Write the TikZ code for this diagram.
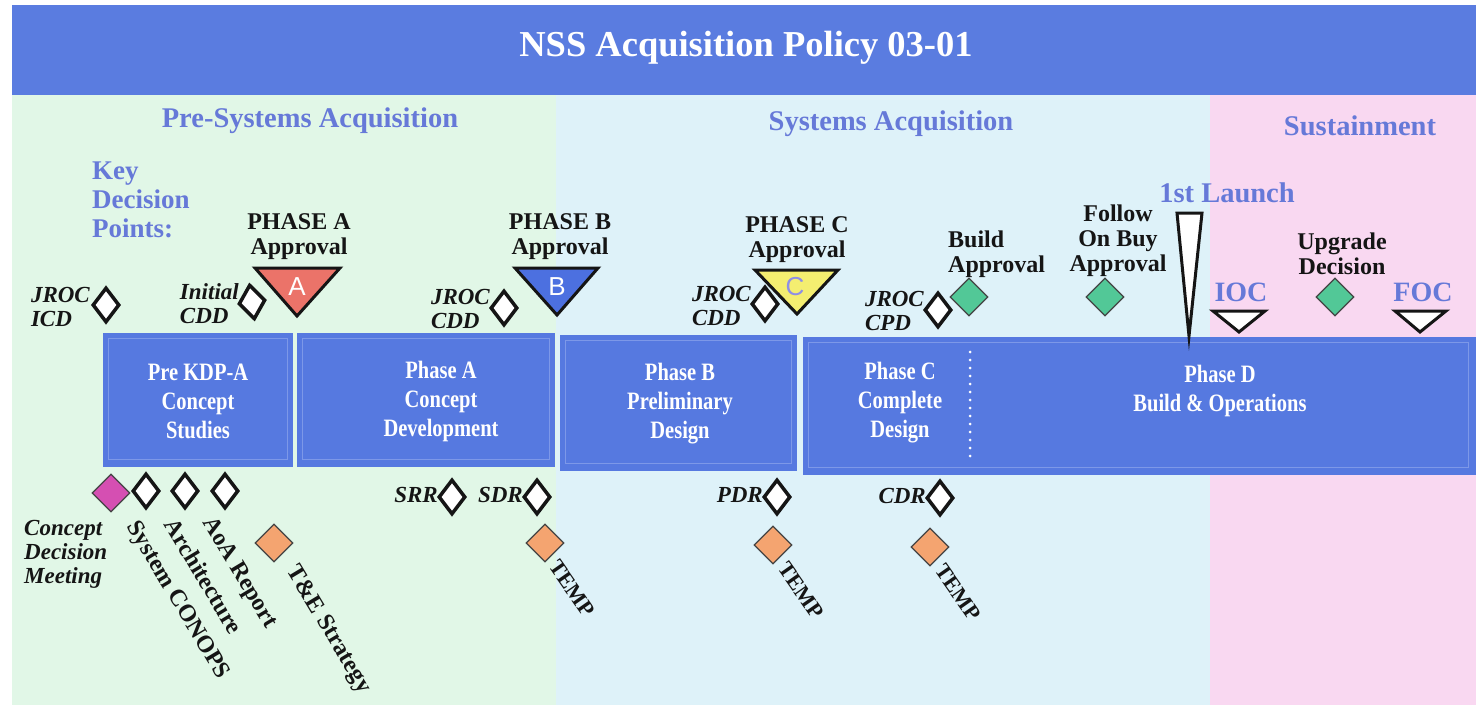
\documentclass[tikz,border=0pt]{standalone}
\usepackage{fontspec}
\setmainfont{Liberation Serif}
\newfontfamily\condfont{Liberation Serif}[FakeStretch=0.82]
\newfontfamily\lettfont{Liberation Sans}
\usetikzlibrary{shapes.geometric}
\definecolor{barblue}{HTML}{5A7CE0}
\definecolor{boxblue}{HTML}{5679E0}
\definecolor{boxline}{HTML}{7D98E8}
\definecolor{greenbg}{HTML}{E1F7E7}
\definecolor{bluebg}{HTML}{DEF2F9}
\definecolor{pinkbg}{HTML}{F9D8F1}
\definecolor{hdrblue}{HTML}{6679D8}
\definecolor{kgreen}{HTML}{52C897}
\definecolor{korange}{HTML}{F4A470}
\definecolor{kpink}{HTML}{D54FB2}
\definecolor{kred}{HTML}{EB7369}
\definecolor{kblue}{HTML}{4C70E0}
\definecolor{kyellow}{HTML}{F4EE70}
\definecolor{cletter}{HTML}{8E8EE6}
\definecolor{ink}{HTML}{151515}
\begin{document}
\begin{tikzpicture}[x=1pt,y=-1pt,
  hdr/.style={text=hdrblue, font=\fontsize{28.5}{30}\selectfont\bfseries, inner sep=0},
  lbl/.style={text=ink, font=\fontsize{24}{25}\selectfont\bfseries, align=center, inner sep=0},
  ilbl/.style={text=ink, font=\fontsize{23}{24}\selectfont\bfseries\itshape, align=left, inner sep=0},
  rlbl/.style={text=ink, font=\fontsize{24}{24}\selectfont\bfseries, inner sep=0, rotate=-59, anchor=north west},
  wd/.style={diamond, draw=ink, line width=3.5pt, fill=white, minimum width=27pt, minimum height=35pt, inner sep=0},
  cd/.style={diamond, draw=ink!80, line width=1.3pt, minimum width=38pt, minimum height=38pt, inner sep=0},
  gd/.style={cd, fill=kgreen},
  od/.style={cd, fill=korange},
  pd/.style={cd, fill=kpink},
  phasebox/.style={fill=boxblue, draw=none, anchor=north west, inner sep=0},
  boxtxt/.style={text=white, font=\condfont\fontsize{25}{29}\selectfont\bfseries, align=center, inner sep=0},
  tri/.style={draw=ink, line width=3pt, line join=miter},
  letter/.style={font=\lettfont\fontsize{26}{26}\selectfont, inner sep=0}
]
\useasboundingbox (0,0) rectangle (1476,709);
\fill[white] (0,0) rectangle (1476,709);
% background regions
\fill[greenbg] (12,95) rectangle (556,705);
\fill[bluebg] (556,95) rectangle (1210,705);
\fill[pinkbg] (1210,95) rectangle (1476,705);
% title bar
\fill[barblue] (12,5) rectangle (1476,95);
\node[text=white, font=\fontsize{36.5}{38}\selectfont\bfseries, inner sep=0] (title) at (746,48) {NSS Acquisition Policy 03-01};
% section headers
\node[hdr] (hpre) at (310,121) {Pre-Systems Acquisition};
\node[hdr] (hsys) at (891,124) {Systems Acquisition};
\node[hdr] (hsus) at (1360,126) {Sustainment};
\node[text=hdrblue, font=\fontsize{27}{29}\selectfont\bfseries, align=left, inner sep=0, anchor=north west] (kdp) at (92,162) {Key\\Decision\\Points:};

% phase boxes
\node[phasebox, minimum width=190pt, minimum height=134pt] (p0) at (103,333) {};
\node[phasebox, minimum width=258pt, minimum height=134pt] (p1) at (297,333) {};
\node[phasebox, minimum width=237pt, minimum height=136pt] (p2) at (560,335) {};
\node[phasebox, minimum width=673pt, minimum height=138pt] (p3) at (803,337) {};
\draw[boxline, line width=0.8pt] (108,338) rectangle (287,459);
\draw[boxline, line width=0.8pt] (302,338) rectangle (549,459);
\draw[boxline, line width=0.8pt] (565,340) rectangle (791,463);
\draw[boxline, line width=0.8pt] (808,342) rectangle (1468,467);
\draw[white, line width=3pt, line cap=round, dash pattern=on 0pt off 8pt] (970,352) -- (970,460);
\node[boxtxt] (t0) at (198,401) {Pre KDP-A\\Concept\\Studies};
\node[boxtxt] (t1) at (441,401) {Phase A\\Concept\\Development};
\node[boxtxt] (t2) at (680,404) {Phase B\\Preliminary\\Design};
\node[boxtxt] (t3) at (900,403) {Phase C\\Complete\\Design};
\node[boxtxt] (t4) at (1220,391) {Phase D\\Build \& Operations};

% top key decision points
\node[wd] (jicd) at (106,305) {};
\node[ilbl, anchor=north east] (ljicd) at (90,287) {JROC\\ICD};
\node[wd, rotate=8] (icdd) at (252,302) {};
\node[ilbl, anchor=north east] (licdd) at (239,283) {Initial\\CDD};
\node[wd] (jcdd1) at (504,308) {};
\node[ilbl, anchor=north east] (ljcdd1) at (490,289) {JROC\\CDD};
\node[wd] (jcdd2) at (765,304) {};
\node[ilbl, anchor=north east] (ljcdd2) at (751,286) {JROC\\CDD};
\node[wd] (jcpd) at (938,310) {};
\node[ilbl, anchor=north east] (ljcpd) at (924,291) {JROC\\CPD};

% phase approval triangles
\coordinate (ta1) at (255,268); \coordinate (ta2) at (340,268); \coordinate (ta3) at (297,316);
\draw[tri, fill=kred] (ta1) -- (ta2) -- (ta3) -- cycle;
\node[letter, text=white] (la) at (297,287) {A};
\node[lbl] (pa) at (299,237) {PHASE A\\Approval};
\coordinate (tb1) at (515,268); \coordinate (tb2) at (598,268); \coordinate (tb3) at (557,315);
\draw[tri, fill=kblue] (tb1) -- (tb2) -- (tb3) -- cycle;
\node[letter, text=white] (lb) at (557,287) {B};
\node[lbl] (pb) at (560,237) {PHASE B\\Approval};
\coordinate (tc1) at (755,270); \coordinate (tc2) at (838,270); \coordinate (tc3) at (797,314);
\draw[tri, fill=kyellow] (tc1) -- (tc2) -- (tc3) -- cycle;
\node[letter, text=cletter] (lc) at (795,287) {C};
\node[lbl] (pc) at (797,240) {PHASE C\\Approval};

% build / follow on / upgrade
\node[gd] (gbuild) at (969,297) {};
\node[lbl, align=left, anchor=north west] (lbuild) at (948,231) {Build\\Approval};
\node[gd] (gfollow) at (1105,297) {};
\node[lbl] (lfollow) at (1118,241) {Follow\\On Buy\\Approval};
\node[gd] (gupg) at (1335,297) {};
\node[lbl] (lupg) at (1342,254) {Upgrade\\Decision};

% launch, IOC, FOC
\coordinate (l1) at (1177,213); \coordinate (l2) at (1202,213); \coordinate (l3) at (1189,336);
\draw[tri, fill=white] (l1) -- (l2) -- (l3) -- cycle;
\node[hdr] (launch) at (1227,193) {1st Launch};
\coordinate (i1) at (1213,311); \coordinate (i2) at (1265,311); \coordinate (i3) at (1239,332);
\draw[tri, fill=white] (i1) -- (i2) -- (i3) -- cycle;
\node[hdr, font=\fontsize{28}{28}\selectfont\bfseries] (ioc) at (1241,292) {IOC};
\coordinate (f1) at (1395,311); \coordinate (f2) at (1446,311); \coordinate (f3) at (1420,332);
\draw[tri, fill=white] (f1) -- (f2) -- (f3) -- cycle;
\node[hdr, font=\fontsize{28}{28}\selectfont\bfseries] (foc) at (1423,292) {FOC};

% bottom pre-KDP-A items
\node[pd] (cdm) at (111,493) {};
\node[ilbl, anchor=north west] (lcdm) at (24,520) {Concept\\Decision\\Meeting};
\node[wd] (conops) at (146,491) {};
\node[wd] (arch) at (185,491) {};
\node[wd] (aoa) at (225,491) {};
\node[od] (tes) at (274,543) {};
\node[rlbl] (lconops) at (140,518) {System CONOPS};
\node[rlbl] (larch) at (178,516) {Architecture};
\node[rlbl] (laoa) at (216,514) {AoA Report};
\node[rlbl] (ltes) at (300,562) {T\&E Strategy};

% reviews
\node[wd] (srr) at (452,497) {};
\node[ilbl, anchor=east] (lsrr) at (438,495) {SRR};
\node[wd] (sdr) at (537,497) {};
\node[ilbl, anchor=east] (lsdr) at (523,495) {SDR};
\node[wd] (pdr) at (777,497) {};
\node[ilbl, anchor=east] (lpdr) at (763,495) {PDR};
\node[wd] (cdr) at (940,498) {};
\node[ilbl, anchor=east] (lcdr) at (926,496) {CDR};
\node[od] (temp1) at (545,543) {};
\node[rlbl, rotate=4, font=\fontsize{22}{24}\selectfont\bfseries] (ltemp1) at (560,558) {TEMP};
\node[od] (temp2) at (773,545) {};
\node[rlbl, rotate=4, font=\fontsize{22}{24}\selectfont\bfseries] (ltemp2) at (789,560) {TEMP};
\node[od] (temp3) at (930,547) {};
\node[rlbl, rotate=4, font=\fontsize{22}{24}\selectfont\bfseries] (ltemp3) at (946,562) {TEMP};
\end{tikzpicture}
\end{document}
